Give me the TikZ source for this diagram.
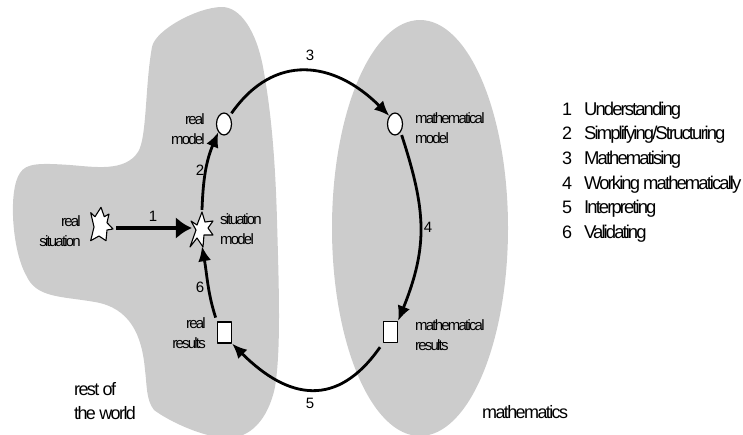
\documentclass[tikz,border=0pt]{standalone}
\usepackage{fontspec}
\setmainfont{Liberation Sans}
\usetikzlibrary{arrows.meta,shapes.geometric}
\definecolor{worldgray}{RGB}{204,204,204}
\newfontfamily\tightfont[LetterSpace=-12]{Liberation Sans}
\newfontfamily\worldfont[LetterSpace=-9]{Liberation Sans}
\newfontfamily\legendfont[LetterSpace=-10.5]{Liberation Sans}
\tikzset{
  stagelabel/.style={font=\tightfont\fontsize{15}{20}\selectfont,inner sep=0pt},
  worldlabel/.style={font=\worldfont\fontsize{18}{24}\selectfont,inner sep=0pt},
  steplabel/.style={font=\fontsize{15}{18}\selectfont,inner sep=0pt},
  legendrow/.style={font=\legendfont\fontsize{18.5}{24}\selectfont,anchor=base west,inner sep=0pt},
  legendnum/.style={font=\fontsize{18}{24}\selectfont,anchor=base west,inner sep=0pt},
  ringarrow/.style={line width=2.8pt,-{Latex[length=15pt,width=13pt]}},
  bigarrow/.style={line width=3.8pt,-{Latex[length=16pt,width=22pt]}},
  stageround/.style={draw,fill=white,line width=1.2pt,ellipse,minimum width=15pt,minimum height=22pt,inner sep=0pt},
  stagebox/.style={draw,fill=white,line width=1.2pt,minimum width=14pt,minimum height=21pt,inner sep=0pt},
  stagestar/.style={minimum width=#1,minimum height=36pt,inner sep=0pt},
  burst/.style={draw,fill=white,line width=1.1pt,line join=round}
}
\begin{document}
\begin{tikzpicture}[x=1pt,y=-1pt,line cap=butt,line join=round]
  \useasboundingbox (0,0) rectangle (743,434);

  % the two regions
  \fill[worldgray] (222,7) .. controls (240,7) and (256,30) .. (263,67)
    .. controls (270,105) and (275,150) .. (277,220)
    .. controls (279,290) and (281,350) .. (275,387)
    .. controls (268,420) and (250,438) .. (228,438)
    .. controls (205,438) and (170,422) .. (154,410)
    .. controls (146,400) and (147,385) .. (145,370)
    .. controls (142,335) and (130,308) .. (95,302)
    .. controls (60,296) and (36,298) .. (26,275)
    .. controls (12,250) and (8,190) .. (20,173)
    .. controls (26,163) and (40,163) .. (70,165)
    .. controls (95,167) and (125,172) .. (138,152)
    .. controls (147,138) and (145,85) .. (152,47)
    .. controls (155,30) and (198,7) .. (222,7) -- cycle;
  \fill[worldgray] (420,228) ellipse (88 and 208);

  % stages
  \node[stagestar=30pt] (RealSit) at (101,228) {};
  \node[stagestar=20pt] (SitModel) at (202,228) {};
  \draw[burst] (90.7,212.7) -- (95,216.7) -- (101,207.3) -- (104.3,216.7) -- (109,214) -- (107,222.7)
    -- (113,229) -- (107,230) -- (106,240.7) -- (99,236) -- (90.7,240.7) -- (94,227) -- cycle;
  \draw[burst] (191,221) -- (197,225) -- (202,212) -- (205,222) -- (213,221) -- (208,228)
    -- (213,235) -- (204,235) -- (203,247) -- (197,238) -- (190,247) -- (196,230) -- cycle;
  \node[stageround] (RealModel) at (224,124) {};
  \node[stageround] (MathModel) at (395,124) {};
  \node[stagebox] (RealRes) at (224.5,332.5) {};
  \node[stagebox] (MathRes) at (390.5,332) {};

  % cycle
  \draw[bigarrow] (RealSit.east) -- (SitModel.west);
  \draw[ringarrow] (SitModel.north) to[out=88,in=-113] (RealModel.south west);
  \draw[ringarrow,shorten <=3pt] (RealModel.north east) to[out=55,in=135,looseness=1.25] (MathModel.north west);
  \draw[ringarrow,shorten <=3pt] (MathModel.south east) to[out=-72,in=68,looseness=1.1] (MathRes.north east);
  \draw[ringarrow,shorten <=5pt] (MathRes.south west) to[out=-125,in=-45,looseness=1.35] (RealRes.south east);
  \draw[ringarrow,shorten <=4pt] (RealRes.north west) to[out=108,in=-80] (SitModel.south);

  % stage names
  \node[stagelabel,align=right,anchor=east] (RealSitText) at (81,231) {real\\situation};
  \node[stagelabel,align=left,anchor=west] (SitModelText) at (220,229) {situation\\model};
  \node[stagelabel,align=right,anchor=east] (RealModelText) at (205,129) {real\\model};
  \node[stagelabel,align=left,anchor=west] (MathModelText) at (415,128) {mathematical\\model};
  \node[stagelabel,align=right,anchor=east] (RealResText) at (206,333) {real\\results};
  \node[stagelabel,align=left,anchor=west] (MathResText) at (415,335) {mathematical\\results};

  % step numbers
  \node[steplabel] (StepOne) at (153,216) {1};
  \node[steplabel] (StepTwo) at (200,170) {2};
  \node[steplabel] (StepThree) at (310,55) {3};
  \node[steplabel] (StepFour) at (428,227) {4};
  \node[steplabel] (StepFive) at (310,403) {5};
  \node[steplabel] (StepSix) at (200,287) {6};

  \node[worldlabel,align=left,anchor=west] (WorldText) at (74,401) {rest of\\the world};
  \node[worldlabel,anchor=west] (MathText) at (482,412) {mathematics};

  % legend
  \foreach \n/\y/\txt in {1/115/Understanding,2/139.5/{Simplifying/Structuring},3/164/Mathematising,4/189/Working mathematically,5/213.5/Interpreting,6/238/Validating} {
    \node[legendnum] (Num\n) at (562,\y) {\n};
    \node[legendrow] (Row\n) at (584,\y) {\txt};
  }
\end{tikzpicture}
\end{document}
